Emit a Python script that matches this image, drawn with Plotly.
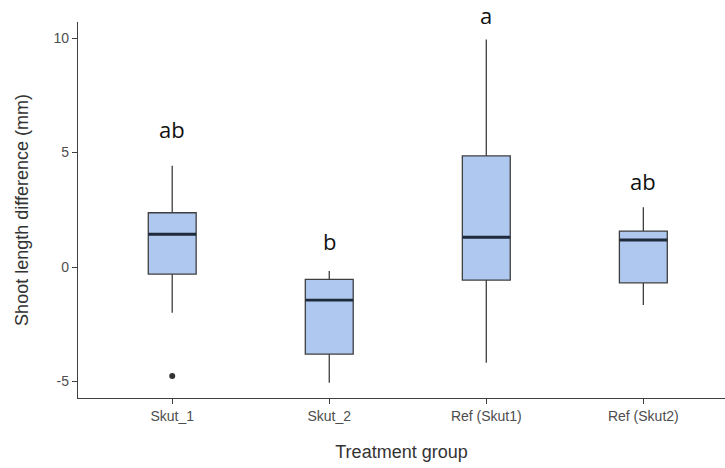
import plotly.graph_objects as go

categories = ["Skut_1", "Skut_2", "Ref (Skut1)", "Ref (Skut2)"]
lower_whisker = [-2.0, -5.05, -4.18, -1.66]
q1 = [-0.31, -3.8, -0.57, -0.69]
median = [1.43, -1.45, 1.30, 1.18]
q3 = [2.37, -0.54, 4.85, 1.57]
upper_whisker = [4.42, -0.17, 9.94, 2.61]
outlier_group = [0]
outlier_value = [-4.76]
letters = ["ab", "b", "a", "ab"]
letter_y = [5.94, 1.05, 10.9, 3.67]
y_ticks = [-5, 0, 5, 10]
y_tick_labels = ["-5", "0", "5", "10"]

Y_RANGE = [-5.72, 10.7]
BOX_W = 0.305
FILL = "#aec8f0"
LINE = "#3f3f3f"

xs = list(range(len(categories)))
fig = go.Figure()
fig.add_trace(go.Box(
    x=xs, q1=q1, median=median, q3=q3,
    lowerfence=lower_whisker, upperfence=upper_whisker,
    fillcolor=FILL, line=dict(color=LINE, width=1.3),
    width=BOX_W, whiskerwidth=0, boxpoints=False, showlegend=False,
    hoverinfo="skip",
))
for i, m in enumerate(median):
    fig.add_trace(go.Scatter(
        x=[i - BOX_W / 2, i + BOX_W / 2], y=[m, m], mode="lines",
        line=dict(color="#1f2a3a", width=2.8), showlegend=False, hoverinfo="skip"))
fig.add_trace(go.Scatter(
    x=outlier_group, y=outlier_value, mode="markers",
    marker=dict(color="#333333", size=6), showlegend=False))

span = Y_RANGE[1] - Y_RANGE[0]
for i, (t, yv) in enumerate(zip(letters, letter_y)):
    fig.add_annotation(
        x=i, y=(yv - Y_RANGE[0]) / span, text=t, showarrow=False,
        xref="x", yref="y domain", yshift=2,
        font=dict(family="Open Sans, Carlito, sans-serif", size=22, color="#111111"),
        yanchor="middle")

fig.update_layout(
    width=725, height=468,
    margin=dict(l=78, r=0, t=22, b=70),
    plot_bgcolor="white", paper_bgcolor="white",
    font=dict(family="Liberation Sans, Arial, sans-serif"),
)
fig.update_xaxes(
    range=[-0.6, 3.52], tickvals=xs, ticktext=categories,
    showline=True, linecolor=LINE, linewidth=1.3,
    ticks="outside", ticklen=5, tickcolor=LINE, tickwidth=1.2,
    tickfont=dict(size=14, color="#4d4d4d"), showgrid=False, zeroline=False,
    title=dict(text="Treatment group", font=dict(size=18, color="#333333"), standoff=22),
)
fig.update_yaxes(
    range=Y_RANGE, tickvals=y_ticks, ticktext=y_tick_labels,
    showline=True, linecolor=LINE, linewidth=1.3,
    ticks="outside", ticklen=5, tickcolor=LINE, tickwidth=1.2,
    tickfont=dict(size=14, color="#4d4d4d"), showgrid=False, zeroline=False,
    title=dict(text="Shoot length difference (mm)", font=dict(size=18, color="#333333"), standoff=20),
)
fig.write_html("out.html")
